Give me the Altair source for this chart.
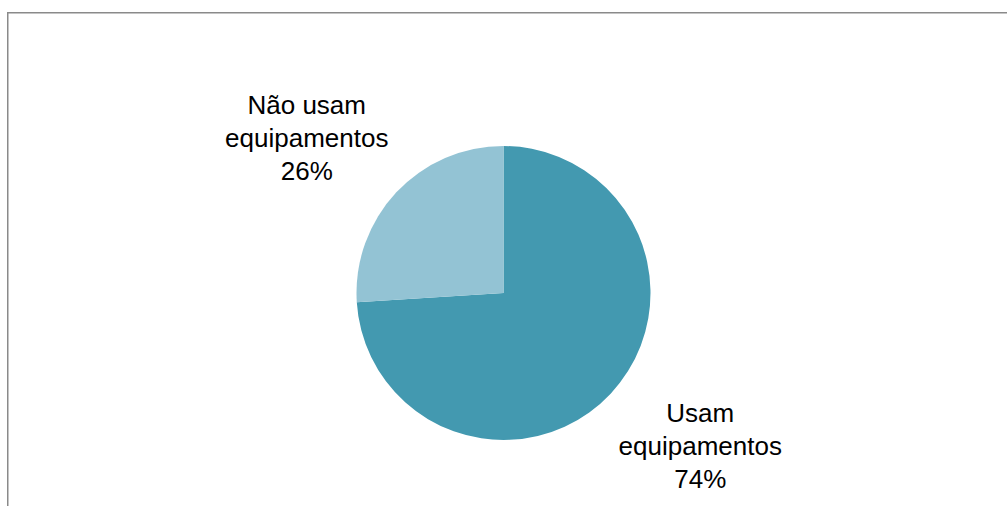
import altair as alt
import pandas as pd

categories = ["Usam equipamentos", "Não usam equipamentos"]
shares = [74, 26]
labels = ["Usam\nequipamentos\n74%", "Não usam\nequipamentos\n26%"]
colors = ["#4399B0", "#93C3D4"]

df = pd.DataFrame({"categoria": categories, "percentual": shares, "rotulo": labels})
frame_df = pd.DataFrame({"frame": [0]})

PAD_TOP = 80

base = alt.Chart(df).encode(
    theta=alt.Theta("percentual:Q", stack=True),
    order=alt.Order("categoria:N", sort="descending"),
)

pie = base.mark_arc(outerRadius=147).encode(
    color=alt.Color("categoria:N", scale=alt.Scale(domain=categories, range=colors), legend=None)
)

text = base.mark_text(
    radius=250, font="Liberation Sans", fontSize=26, lineHeight=33, dy=-33,
    lineBreak="\n", align="center", baseline="middle", color="black"
).encode(
    theta=alt.Theta("percentual:Q", stack=True, scale=alt.Scale(range=[-0.089, 6.194])),
    text="rotulo:N",
)

top_line = alt.Chart(frame_df).mark_rule(color="#8a8a8a", strokeWidth=1.5).encode(
    x=alt.value(7), x2=alt.value(1007), y=alt.value(12.75 - PAD_TOP)
)
left_line = alt.Chart(frame_df).mark_rule(color="#8a8a8a", strokeWidth=1.5).encode(
    x=alt.value(7.75), y=alt.value(12 - PAD_TOP), y2=alt.value(426)
)

chart = alt.layer(pie, text, top_line, left_line).resolve_scale(
    theta="independent"
).properties(
    width=1007, height=426,
    padding={"left": 0, "top": PAD_TOP, "right": 0, "bottom": 0},
    autosize=alt.AutoSizeParams(type="none"),
    background="white",
).configure_view(strokeWidth=0)

chart.save("out.html", embed_options={"renderer": "svg", "actions": False})
